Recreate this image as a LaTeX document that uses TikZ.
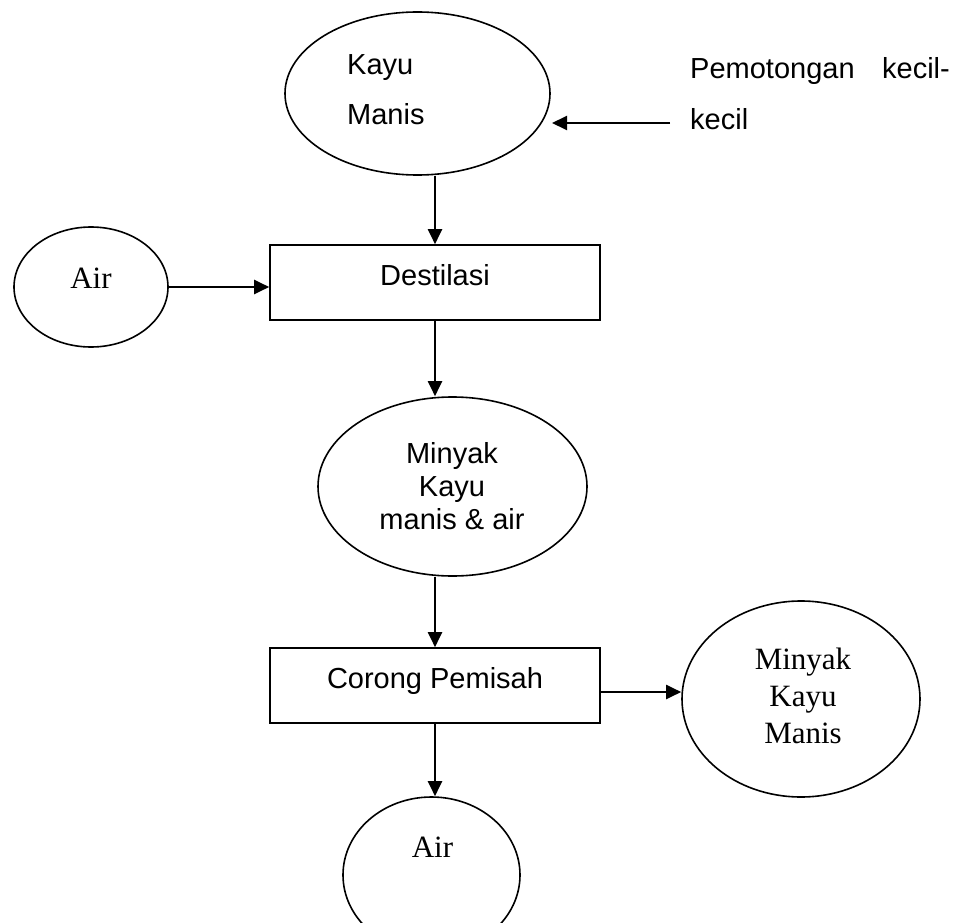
\documentclass[tikz,border=0pt]{standalone}
\usepackage{fontspec}
\setmainfont{Liberation Serif}
\newfontfamily\arialf{Liberation Sans}
\usetikzlibrary{shapes.geometric,arrows.meta}
\begin{document}
\begin{tikzpicture}[x=1pt,y=-1pt,
  outl/.style={draw,line width=1.6pt,inner sep=0pt},
  oval/.style={outl,ellipse},
  box/.style={outl,rectangle},
  sans/.style={font=\arialf\fontsize{29}{33}\selectfont,inner sep=0pt},
  serif/.style={font=\fontsize{31}{36}\selectfont,inner sep=0pt},
  arr/.style={line width=2pt,-{Triangle[length=15pt,width=14pt]}}]
\useasboundingbox (0,0) rectangle (956,923);
% top ellipse
\node[oval,minimum width=265pt,minimum height=163pt] (K) at (417.5,93.5) {};
\node[sans,anchor=base west] (k1) at (347,75) {Kayu};
\node[sans,anchor=base west] (k2) at (347,125) {Manis};
% side note
\node[sans,anchor=base west] (p1) at (690,79) {Pemotongan};
\node[sans,anchor=base east] (p2) at (950,79) {kecil-};
\node[sans,anchor=base west] (p3) at (690,130) {kecil};
\coordinate (ptail) at (670,123);
\coordinate (phead) at (552,123);
\draw[arr] (ptail) -- (phead);
% left Air
\node[oval,minimum width=154pt,minimum height=120pt] (A1) at (91,287) {};
\node[serif,anchor=base] (a1) at (91,288) {Air};
% Destilasi
\node[box,minimum width=330pt,minimum height=75pt] (D) at (435,282.5) {};
\node[sans,anchor=base] (d) at (435,285) {Destilasi};
\draw[arr] (K.south -| D.north) -- (D.north);
\draw[arr] (A1.east) -- (A1.east -| D.west);
% Minyak kayu manis & air
\node[oval,minimum width=269pt,minimum height=179pt] (M) at (452.5,486.5) {};
\node[sans,anchor=base] (m1) at (452,463) {Minyak};
\node[sans,anchor=base] (m2) at (452,496) {Kayu};
\node[sans,anchor=base] (m3) at (452,529) {manis \& air};
\draw[arr] (D.south) -- (D.south |- M.north);
% Corong Pemisah
\node[box,minimum width=330pt,minimum height=75pt] (C) at (435,685.5) {};
\node[sans,anchor=base] (c) at (435,688) {Corong Pemisah};
\draw[arr] (M.south -| C.north) -- (C.north);
% right ellipse
\node[oval,minimum width=238pt,minimum height=196pt] (R) at (801,699) {};
\node[serif,anchor=base] (r1) at (803,669) {Minyak};
\node[serif,anchor=base] (r2) at (803,706) {Kayu};
\node[serif,anchor=base] (r3) at (803,743) {Manis};
\draw[arr] ([yshift=-6.5pt]C.east) -- ([yshift=-6.5pt]C.east -| R.west);
% bottom Air
\node[oval,minimum width=177pt,minimum height=156pt] (B) at (431.5,875) {};
\node[serif,anchor=base] (b) at (432.5,857) {Air};
\draw[arr] (C.south) -- (C.south |- B.north);
\end{tikzpicture}
\end{document}
